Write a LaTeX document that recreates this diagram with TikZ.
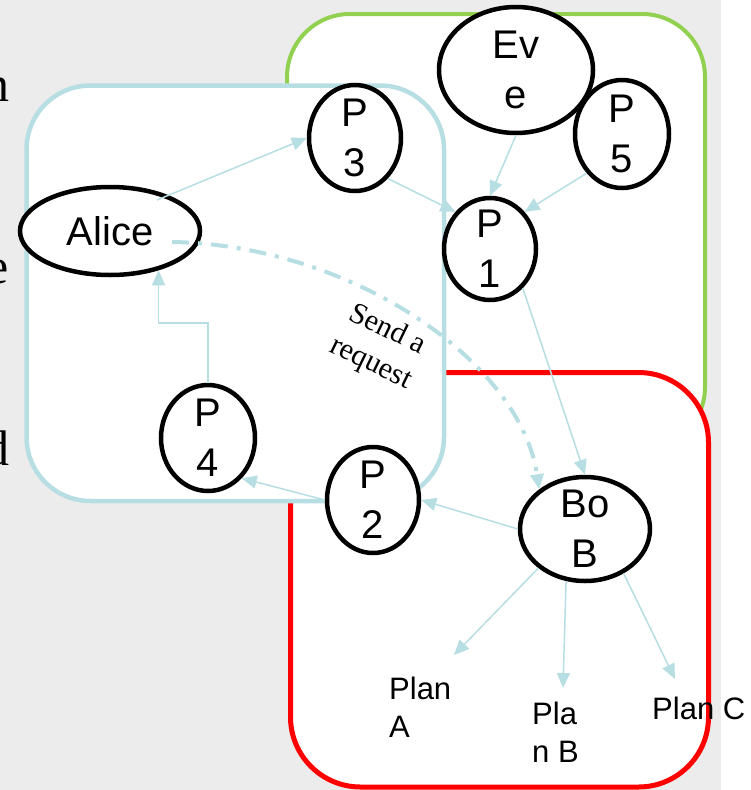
\documentclass[tikz,border=0pt]{standalone}
\usepackage{fontspec}
\setmainfont{Liberation Sans}
\newfontfamily\serifnt{Liberation Serif}
\usetikzlibrary{arrows.meta,calc,shapes.geometric}
\definecolor{bgray}{RGB}{236,236,236}
\definecolor{lblue}{RGB}{183,222,227}
\definecolor{lgreen}{RGB}{146,208,80}
\begin{document}
\begin{tikzpicture}[x=1pt,y=-1pt,
  ell/.style={ellipse, draw=black, line width=4.5pt, fill=white, inner sep=-12pt, align=center, font=\fontsize{40}{50}\selectfont},
  arr/.style={draw=lblue, line width=1.5pt, -{Triangle[length=15pt,width=13pt]}},
  plan/.style={inner sep=0pt, anchor=north west, align=left, font=\fontsize{31}{38}\selectfont},
  frag/.style={inner sep=0pt, anchor=base east, font=\serifnt\fontsize{50}{60}\selectfont},
  dashdotline/.style={draw=lblue, line width=4pt, dash pattern=on 17pt off 9pt on 4pt off 9pt, -{Triangle[length=15pt,width=13pt]}},
  ]
\useasboundingbox (0,0) rectangle (751,790);
\fill[bgray] (0,0) rectangle (721,790);
\begin{scope}
\clip (0,0) rectangle (721,790);
\node[frag] (fn) at (10,101) {n};
\node[frag] (fe) at (9,283) {e};
\node[frag] (fd) at (10,465) {d};
\end{scope}
% group boxes
\draw[lgreen, line width=4pt, fill=white, rounded corners=63pt] (287,14) rectangle (705,450);
\draw[red, line width=5pt, fill=white, rounded corners=70pt] (290.5,372.5) rectangle (708.5,787);
\draw[lblue, line width=4.5pt, fill=white, rounded corners=64pt] (26.5,85.5) rectangle (444,501);
% nodes
\node[ell, minimum width=180pt, minimum height=88pt] (Alice) at (110,231) {Alice};
\node[ell, minimum width=92pt, minimum height=106pt] (P3) at (355,138) {P\\3};
\node[ell, minimum width=154pt, minimum height=126pt] (Eve) at (516,70) {Ev\\e};
\node[ell, minimum width=94pt, minimum height=108pt] (P5) at (622,134) {P\\5};
\node[ell, minimum width=92pt, minimum height=102pt] (P1) at (490,249) {P\\1};
\node[ell, minimum width=94pt, minimum height=106pt] (P4) at (208,438) {P\\4};
\node[ell, minimum width=92pt, minimum height=106pt] (P2) at (373,500) {P\\2};
\node[ell, minimum width=130pt, minimum height=104pt] (BoB) at (585,529) {Bo\\B};
\node[plan] (PlanA) at (389,677) {Plan\\A};
\node[plan] (PlanB) at (532,702) {Pla\\n B};
\node[plan] (PlanC) at (652,697) {Plan C};
% connectors
\draw[arr] ($(Alice.center)+(47,-31)$) -- (P3.west);
\draw[arr] (P3.-51) -- (P1.133);
\draw[arr] (Eve.south) -- (P1.north);
\draw[arr] (P5.-132) -- (P1.47);
\draw[arr] (P1.-50) -- (BoB.north);
\draw[arr] (BoB.west) -- (P2.east);
\draw[arr] (P2.west) -- (P4.-50);
\draw[arr] (P4.north) -- ++(0,-60) -| (Alice.-39);
\draw[arr] (BoB.-140) -- ($(PlanA.north west)+(65,-22)$);
\draw[arr] (BoB.-110) -- ($(PlanB.north west)+(31,-14)$);
\draw[arr] (BoB.-49) -- ($(PlanC.north west)+(23,-18)$);
\draw[dashdotline] ($(Alice.center)+(62,11)$) .. controls (350,245) and (520,360) .. (BoB.139);
\node[font=\serifnt\fontsize{30}{37}\selectfont, align=center, rotate=-26, inner sep=0pt] (send) at (379,347) {Send a\\request};
\end{tikzpicture}
\end{document}
